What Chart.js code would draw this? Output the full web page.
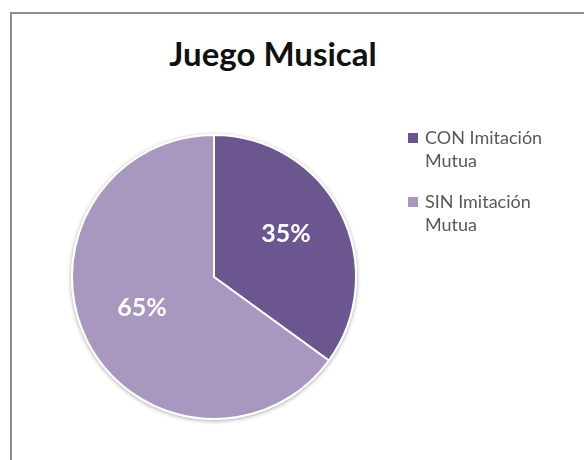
<!DOCTYPE html>
<html lang="es">
<head>
    <meta charset="UTF-8">
    <title>Juego Musical</title>
    <style>
        html, body { margin: 0; padding: 0; background: #fff; }
        body { width: 584px; height: 460px; position: relative; overflow: hidden; font-family: Lato, "Open Sans", sans-serif; }
        .frame {
            position: absolute; left: 10px; top: 12px; width: 620px; height: 500px;
            border-top: 2px solid #8e8e8e; border-left: 2px solid #8e8e8e;
        }
        .title {
            position: absolute; left: 0; width: 546px; top: 33px; text-align: center;
            font-weight: bold; font-size: 33px; color: #111;
        }
        #chartBox { position: absolute; left: 0; top: 0; width: 584px; height: 460px; }
        .legend { position: absolute; left: 406px; top: 126px; color: #595959; font-size: 18px; line-height: 23px; }
        .legend .item { position: relative; padding-left: 19px; margin-bottom: 18px; }
        .legend .sw { position: absolute; left: 2px; top: 7px; width: 10px; height: 10px; }
    </style>
</head>
<body>
    <div class="frame"></div>
    <div class="title">Juego Musical</div>
    <div id="chartBox"><canvas id="pie" width="584" height="460"></canvas></div>
    <div class="legend" id="legend"></div>
    <script src="https://cdn.jsdelivr.net/npm/chart.js"></script>
    <script>
    // data
    const labels = ['CON Imitación Mutua', 'SIN Imitación Mutua'];
    const legendLines = [['CON Imitación', 'Mutua'], ['SIN Imitación', 'Mutua']];
    const values = [35, 65];
    const colors = ['#6c5690', '#a898c0'];

    // legend (two-line entries like the original)
    const legend = document.getElementById('legend');
    legendLines.forEach((lines, i) => {
        legend.innerHTML += `<div class="item"><span class="sw" style="background:${colors[i]}"></span>${lines.join('<br>')}</div>`;
    });

    // soft grey rim under the pie
    const rimPlugin = {
        id: 'rim',
        beforeDatasetsDraw(chart) {
            const arc = chart.getDatasetMeta(0).data[0];
            if (!arc) return;
            const ctx = chart.ctx;
            ctx.save();
            ctx.beginPath();
            ctx.arc(arc.x, arc.y, arc.outerRadius + 1, 0, Math.PI * 2);
            ctx.fillStyle = '#fff';
            ctx.shadowColor = 'rgba(0,0,0,0.35)';
            ctx.shadowBlur = 4;
            ctx.shadowOffsetY = 1;
            ctx.fill();
            ctx.restore();
        }
    };

    // percentage labels inside slices
    const pctPlugin = {
        id: 'pct',
        afterDatasetsDraw(chart) {
            const ctx = chart.ctx;
            const total = values.reduce((a, b) => a + b, 0);
            ctx.save();
            ctx.font = 'bold 25px Lato, sans-serif';
            ctx.fillStyle = '#fff';
            ctx.textAlign = 'center';
            ctx.textBaseline = 'middle';
            chart.getDatasetMeta(0).data.forEach((arc, i) => {
                const mid = (arc.startAngle + arc.endAngle) / 2;
                const r = arc.outerRadius * 0.57;
                ctx.fillText(Math.round(values[i] / total * 100) + '%', arc.x + Math.cos(mid) * r, arc.y + Math.sin(mid) * r - 6);
            });
            ctx.restore();
        }
    };

    new Chart(document.getElementById('pie'), {
        type: 'pie',
        data: {
            labels: labels,
            datasets: [{
                data: values,
                backgroundColor: colors,
                borderColor: '#ffffff',
                borderWidth: 2
            }]
        },
        options: {
            responsive: false,
            animation: false,
            layout: { padding: { left: 71, right: 227, top: 134, bottom: 40 } },
            plugins: {
                legend: { display: false },
                title: { display: false },
                tooltip: { enabled: false }
            }
        },
        plugins: [rimPlugin, pctPlugin]
    });
    </script>
</body>
</html>
